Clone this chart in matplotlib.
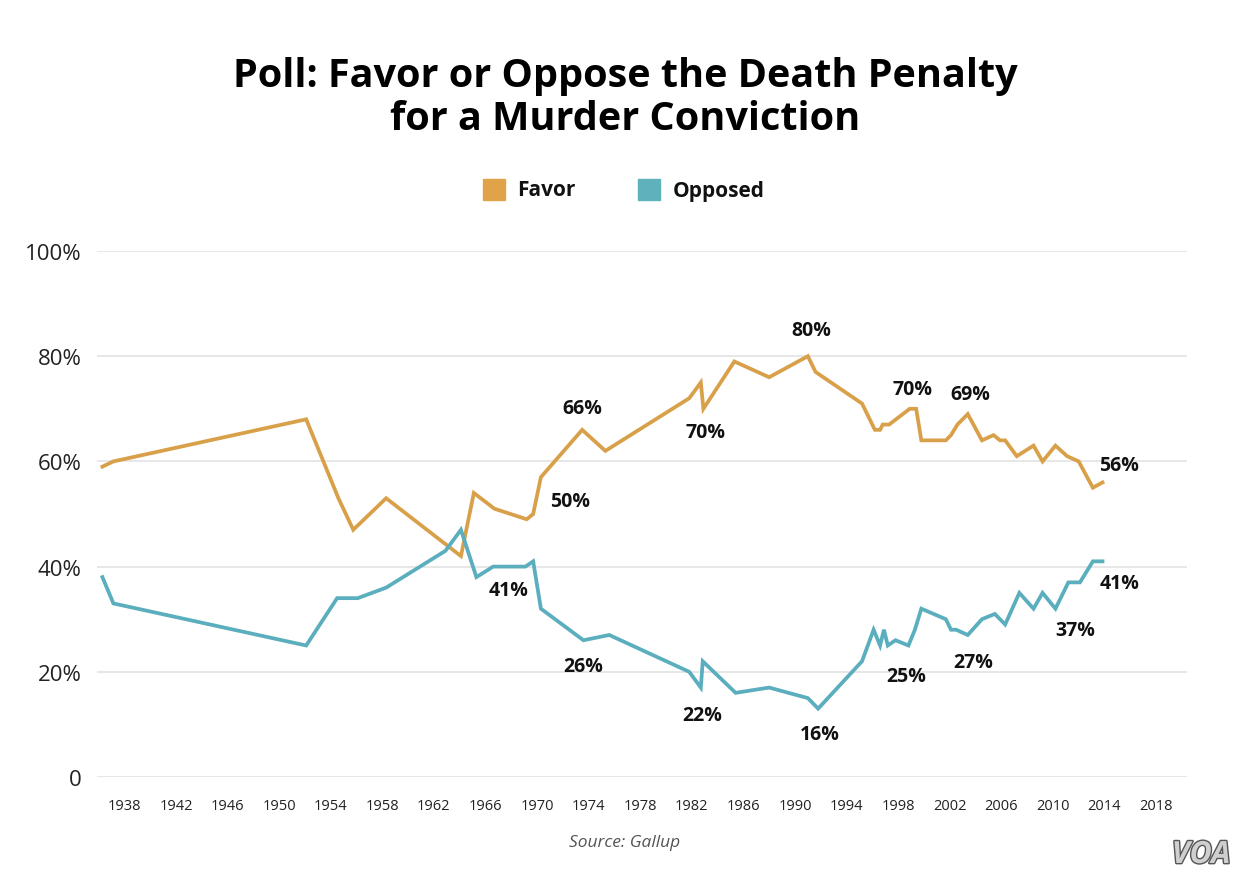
import matplotlib
matplotlib.use("Agg")
import matplotlib.pyplot as plt

plt.rcParams['font.family'] = ['Open Sans', 'DejaVu Sans']

# ---- data ----
favor_years = [1936.3, 1937.15, 1952.1, 1954.6, 1955.75, 1958.3, 1964.1, 1965.1, 1966.7,
               1969.2, 1969.7, 1970.3, 1973.5, 1975.3, 1981.8, 1982.7, 1982.9, 1985.3,
               1988.0, 1991.0, 1991.6, 1995.2, 1996.2, 1996.6, 1996.8, 1997.3, 1998.9,
               1999.4, 1999.8, 2001.7, 2002.1, 2002.6, 2003.4, 2004.5, 2005.4, 2005.9,
               2006.3, 2007.2, 2008.5, 2009.2, 2010.2, 2011.1, 2012.0, 2013.1, 2013.85]
favor = [59, 60, 68, 53, 47, 53, 42, 54, 51,
         49, 50, 57, 66, 62, 72, 75, 70, 79,
         76, 80, 77, 71, 66, 66, 67, 67, 70,
         70, 64, 64, 65, 67, 69, 64, 65, 64,
         64, 61, 63, 60, 63, 61, 60, 55, 56]

opposed_years = [1936.3, 1937.15, 1952.1, 1954.5, 1956.1, 1958.3, 1962.9, 1964.1, 1965.3,
                 1966.6, 1969.1, 1969.7, 1970.3, 1973.6, 1975.6, 1981.8, 1982.7, 1982.85,
                 1985.4, 1988.0, 1991.0, 1991.8, 1995.2, 1996.1, 1996.6, 1996.9, 1997.2,
                 1997.8, 1998.8, 1999.3, 1999.8, 2001.7, 2002.1, 2002.5, 2003.4, 2004.5,
                 2005.5, 2006.3, 2007.4, 2008.5, 2009.2, 2010.2, 2011.2, 2012.1, 2013.1,
                 2013.85]
opposed = [38, 33, 25, 34, 34, 36, 43, 47, 38,
           40, 40, 41, 32, 26, 27, 20, 17, 22,
           16, 17, 15, 13, 22, 28, 25, 28, 25,
           26, 25, 28, 32, 30, 28, 28, 27, 30,
           31, 29, 35, 32, 35, 32, 37, 37, 41,
           41]

label_text = ["80%", "66%", "70%", "50%", "41%", "26%", "22%", "16%",
              "70%", "69%", "56%", "25%", "27%", "37%", "41%"]
label_x = [1991.3, 1973.5, 1983.1, 1972.6, 1967.8, 1973.6, 1982.8, 1991.9,
           1999.1, 2003.6, 2015.1, 1998.6, 2003.8, 2011.7, 2015.2]
label_y = [85.0, 70.1, 65.5, 52.4, 35.6, 21.1, 11.8, 8.2,
           73.7, 72.9, 59.4, 19.2, 21.9, 28.0, 36.8]

x_ticks = list(range(1938, 2019, 4))
y_ticks = [0, 20, 40, 60, 80, 100]
y_ticklabels = ["0", "20%", "40%", "60%", "80%", "100%"]

FAVOR_C = "#D9A04A"
OPP_C = "#5AAEBD"

fig = plt.figure(figsize=(12.5, 8.79), dpi=100)
ax = fig.add_axes([97/1250, 1 - 778/879, (1187-97)/1250, (778-252)/879])

ax.plot(favor_years, favor, color=FAVOR_C, lw=2.7, solid_joinstyle='miter', zorder=3)
ax.plot(opposed_years, opposed, color=OPP_C, lw=2.7, solid_joinstyle='miter', zorder=3)

ax.set_xlim(1935.88, 2020.4)
ax.set_ylim(0, 100)
ax.set_xticks(x_ticks)
ax.set_xticklabels([str(t) for t in x_ticks], fontsize=10.5, color="#222222")
ax.set_yticks(y_ticks)
ax.set_yticklabels(y_ticklabels, fontsize=16, color="#222222")
ax.tick_params(length=0)
ax.tick_params(axis='x', pad=15)
ax.tick_params(axis='y', pad=11)
for s in ax.spines.values():
    s.set_visible(False)
ax.grid(axis='y', color="#e3e3e3", lw=1.2)
ax.set_axisbelow(True)

for t, x, y in zip(label_text, label_x, label_y):
    ax.text(x, y, t, ha='center', va='center', fontsize=14, fontweight='bold', color='#111111')

# title
fig.text(0.5, 1 - 76/879, "Poll: Favor or Oppose the Death Penalty", ha='center', va='center',
         fontsize=28.5, fontweight='bold', color='#000000')
fig.text(0.5, 1 - 119/879, "for a Murder Conviction", ha='center', va='center',
         fontsize=28.5, fontweight='bold', color='#000000')

# legend
from matplotlib.patches import Rectangle
for (x0, col, txt, tx) in [(483, "#E0A34A", "Favor", 517), (638, "#5FB1BC", "Opposed", 673)]:
    fig.patches.append(Rectangle((x0/1250, 1 - 201/879), 22/1250, 21/879,
                                 transform=fig.transFigure, color=col))
    fig.text(tx/1250, 1 - 191/879, txt, ha='left', va='center', fontsize=15,
             fontweight='bold', color='#111111')

fig.text(0.5, 1 - 843/879, "Source: Gallup", ha='center', va='center', fontsize=12.5,
         style='italic', color='#555555')

# VOA mark
import matplotlib.patheffects as pe
fig.text(1201/1250, 1 - 856/879, "VOA", ha='center', va='center', fontsize=22,
         fontweight='bold', style='italic', color='#cfcfcf',
         path_effects=[pe.withStroke(linewidth=2, foreground='#555555')])

fig.savefig("out.png", dpi=100, facecolor='white')
